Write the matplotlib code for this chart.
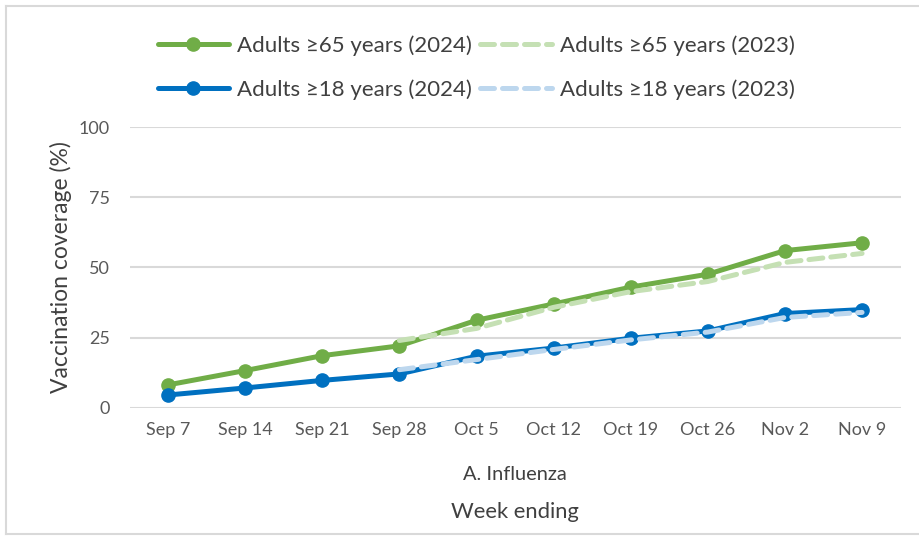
import numpy as np
import matplotlib
matplotlib.use("Agg")
import matplotlib.pyplot as plt
from matplotlib.lines import Line2D

plt.rcParams['font.family'] = ['Lato', 'DejaVu Sans']

weeks = ["Sep 7", "Sep 14", "Sep 21", "Sep 28", "Oct 5", "Oct 12",
         "Oct 19", "Oct 26", "Nov 2", "Nov 9"]
adults65_2024 = [8.2, 13.3, 18.6, 22.1, 31.2, 37.0, 43.0, 47.6, 56.0, 58.8]
adults65_2023 = [np.nan, np.nan, np.nan, 24.0, 28.3, 35.8, 41.4, 45.0, 51.8, 55.0]
adults18_2024 = [4.6, 7.1, 9.8, 12.1, 18.4, 21.3, 24.8, 27.4, 33.6, 35.0]
adults18_2023 = [np.nan, np.nan, np.nan, 13.6, 17.2, 20.8, 24.2, 27.0, 32.2, 34.0]
y_ticks = [0, 25, 50, 75, 100]

GREEN = "#70AD47"
LIGHT_GREEN = "#C5E0B4"
BLUE = "#0070C0"
LIGHT_BLUE = "#BDD7EE"
TEXT = "#404040"
TICK = "#595959"
GRID = "#D9D9D9"

fig = plt.figure(figsize=(9.19, 5.36), dpi=100)
ax = fig.add_axes([0.141, 0.239, 0.839, 0.524])

x = np.arange(len(weeks))
dash = (2.8, 1.6)

ax.plot(x, adults65_2024, color=GREEN, lw=3.6, marker='o', ms=9.5,
        solid_capstyle='round', zorder=3, clip_on=False)
ax.plot(x, adults18_2024, color=BLUE, lw=3.6, marker='o', ms=9.5,
        solid_capstyle='round', zorder=3, clip_on=False)
ax.plot(x, adults65_2023, color=LIGHT_GREEN, lw=3.6, dashes=dash,
        dash_capstyle='round', zorder=4, clip_on=False)
ax.plot(x, adults18_2023, color=LIGHT_BLUE, lw=3.6, dashes=dash,
        dash_capstyle='round', zorder=4, clip_on=False)

ax.set_xlim(-0.5, len(weeks) - 0.5)
ax.set_ylim(0, 100)
ax.set_yticks(y_ticks)
ax.set_xticks(x)
ax.set_xticklabels(weeks)
ax.grid(axis='y', color=GRID, lw=1.5)
ax.set_axisbelow(True)
for side in ['top', 'right', 'left', 'bottom']:
    ax.spines[side].set_visible(False)
ax.tick_params(length=0, labelsize=13, colors=TICK, pad=10)
ax.tick_params(axis='y', pad=14)

ax.set_ylabel("Vaccination coverage (%)", fontsize=16.5, color=TEXT, labelpad=5)
fig.text(0.560, 0.114, "A. Influenza", ha='center', va='center',
         fontsize=14.4, color=TEXT)
fig.text(0.560, 0.045, "Week ending", ha='center', va='center',
         fontsize=15.8, color=TEXT)

handles = [
    Line2D([], [], color=GREEN, lw=3.6, marker='o', ms=9.5, solid_capstyle='round'),
    Line2D([], [], color=BLUE, lw=3.6, marker='o', ms=9.5, solid_capstyle='round'),
    Line2D([], [], color=LIGHT_GREEN, lw=3.6, dashes=dash, dash_capstyle='round'),
    Line2D([], [], color=LIGHT_BLUE, lw=3.6, dashes=dash, dash_capstyle='round'),
]
labels = ["Adults ≥65 years (2024)", "Adults ≥18 years (2024)",
          "Adults ≥65 years (2023)", "Adults ≥18 years (2023)"]
leg = fig.legend(handles, labels, ncol=2, loc='center',
                 bbox_to_anchor=(0.518, 0.874), frameon=False,
                 fontsize=16, handlelength=3.2, handletextpad=0.36,
                 columnspacing=0.4, labelspacing=1.05)
for t in leg.get_texts():
    t.set_color(TEXT)

# chart border
fig.add_artist(Line2D([0.0065, 1.0], [0.989, 0.989], color=GRID, lw=1.5))
fig.add_artist(Line2D([0.0065, 0.0065], [0.004, 0.989], color=GRID, lw=1.5))
fig.add_artist(Line2D([0.0065, 1.0], [0.004, 0.004], color=GRID, lw=1.5))

fig.savefig("out.png", dpi=100, facecolor='white')
